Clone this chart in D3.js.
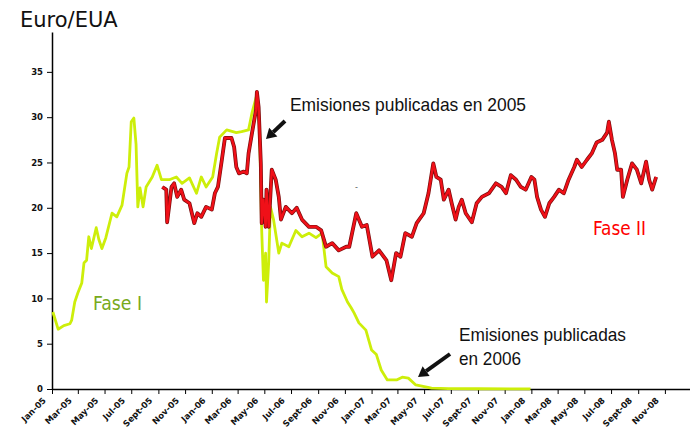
<!DOCTYPE html>
<html>
<head>
<meta charset="utf-8">
<script src="https://cdn.jsdelivr.net/npm/d3@7"></script>
<style>
  body { margin: 0; background: #fff; }
  .axis text { font-family: "DejaVu Sans", Verdana, sans-serif; font-weight: bold; fill: #111; }
  .axis path, .axis line { stroke: #000; }
</style>
</head>
<body>
<div id="chart"></div>
<script>
// Fase I (precio spot EUA 2005-2007)
const fase1Dates = ["2005-01-03","2005-01-15","2005-01-28","2005-02-11","2005-02-15","2005-02-22","2005-03-01","2005-03-10","2005-03-15","2005-03-21","2005-03-26","2005-04-01","2005-04-12","2005-04-18","2005-04-25","2005-05-04","2005-05-18","2005-05-29","2005-06-10","2005-06-21","2005-06-26","2005-07-01","2005-07-07","2005-07-12","2005-07-16","2005-07-21","2005-07-28","2005-08-04","2005-08-18","2005-08-29","2005-09-08","2005-09-26","2005-10-12","2005-10-25","2005-11-11","2005-11-27","2005-12-08","2005-12-19","2006-01-03","2006-01-12","2006-01-19","2006-02-04","2006-02-26","2006-03-10","2006-03-26","2006-04-03","2006-04-14","2006-04-20","2006-04-25","2006-04-29","2006-05-04","2006-05-06","2006-05-11","2006-05-15","2006-05-22","2006-06-03","2006-06-10","2006-06-26","2006-07-12","2006-07-26","2006-08-11","2006-08-27","2006-09-10","2006-09-19","2006-10-03","2006-10-18","2006-10-25","2006-11-07","2006-11-15","2006-11-22","2006-12-03","2006-12-19","2007-01-01","2007-01-12","2007-01-23","2007-02-06","2007-02-27","2007-03-12","2007-03-26","2007-04-12","2007-05-18","2007-06-26","2007-09-03","2007-12-30"];
const fase1Values = [8.5,6.6,7.0,7.2,7.6,9.6,10.6,11.7,13.9,14.2,16.8,15.5,17.8,16.5,15.5,16.7,19.4,19.0,20.3,23.8,24.5,29.5,29.9,27.0,20.1,22.2,20.1,22.3,23.4,24.7,23.1,23.1,23.4,22.7,23.3,21.6,23.4,22.3,23.4,26.0,27.8,28.6,28.3,28.4,28.6,30.5,32.5,29.0,17.5,12.0,15.0,9.6,14.0,20.1,18.7,15.0,16.1,15.7,17.5,16.8,17.2,16.7,17.2,13.5,12.8,12.4,11.0,9.6,9.0,8.4,7.3,6.5,4.3,3.8,2.1,1.0,1.0,1.3,1.2,0.45,0.1,0.05,0.03,0.02];

// Fase II (futuros dic-08)
const fase2Dates = ["2005-09-10","2005-09-19","2005-09-21","2005-10-01","2005-10-07","2005-10-14","2005-10-23","2005-10-30","2005-11-11","2005-11-22","2005-11-29","2005-12-08","2005-12-19","2006-01-01","2006-01-08","2006-01-15","2006-01-24","2006-01-31","2006-02-15","2006-02-21","2006-02-26","2006-03-04","2006-03-15","2006-03-22","2006-03-26","2006-04-03","2006-04-12","2006-04-14","2006-04-18","2006-04-23","2006-04-25","2006-04-29","2006-05-04","2006-05-06","2006-05-11","2006-05-18","2006-05-27","2006-06-03","2006-06-08","2006-06-19","2006-07-03","2006-07-14","2006-07-26","2006-08-11","2006-08-27","2006-09-08","2006-09-19","2006-10-03","2006-10-18","2006-11-04","2006-11-11","2006-11-27","2006-12-10","2006-12-21","2007-01-03","2007-01-18","2007-02-04","2007-02-15","2007-02-26","2007-03-08","2007-03-19","2007-04-03","2007-04-14","2007-04-30","2007-05-11","2007-05-22","2007-05-29","2007-06-08","2007-06-15","2007-06-26","2007-07-03","2007-07-12","2007-07-19","2007-07-26","2007-08-04","2007-08-18","2007-08-29","2007-09-10","2007-09-26","2007-10-12","2007-10-25","2007-11-04","2007-11-15","2007-11-27","2007-12-08","2007-12-19","2008-01-01","2008-01-08","2008-01-14","2008-01-23","2008-02-01","2008-02-11","2008-02-22","2008-03-04","2008-03-15","2008-03-26","2008-04-08","2008-04-14","2008-04-25","2008-05-07","2008-05-18","2008-05-29","2008-06-11","2008-06-22","2008-06-26","2008-07-03","2008-07-10","2008-07-15","2008-07-24","2008-07-28","2008-08-07","2008-08-18","2008-08-29","2008-09-08","2008-09-19","2008-09-26","2008-10-03","2008-10-12"];
const fase2Values = [22.3,22.0,18.4,22.3,22.7,21.2,22.0,20.9,20.5,18.3,19.4,19.0,20.1,19.8,21.6,22.3,25.3,27.7,27.7,26.7,24.5,23.8,24.0,23.8,26.0,28.3,30.8,32.8,31.1,24.9,18.3,20.9,17.9,22.0,17.9,24.2,23.1,21.2,18.7,20.1,19.4,20.0,18.7,17.9,17.9,17.5,15.7,16.1,15.3,15.7,15.7,19.4,17.9,18.1,14.6,15.3,14.2,12.0,15.0,14.6,17.2,16.8,18.3,19.4,21.6,24.9,23.4,23.1,20.9,22.0,20.5,18.7,20.1,20.9,19.4,18.4,20.5,21.2,21.6,22.7,22.3,21.6,23.6,23.1,22.3,22.0,23.4,23.1,21.2,19.8,19.0,20.5,21.2,22.0,21.6,23.1,24.5,25.3,24.5,25.3,26.0,27.2,27.5,28.3,29.5,27.5,26.0,24.2,24.2,21.2,23.1,24.9,24.2,22.7,25.1,23.1,22.0,23.4];

const xTickLabels = ["Jan-05","Mar-05","May-05","Jul-05","Sept-05","Nov-05","Jan-06","Mar-06","May-06","Jul-06","Sept-06","Nov-06","Jan-07","Mar-07","May-07","Jul-07","Sept-07","Nov-07","Jan-08","Mar-08","May-08","Jul-08","Sept-08","Nov-08"];
const yTicks = [0,5,10,15,20,25,30,35];

const width = 690, height = 432;
const parse = d3.timeParse("%Y-%m-%d");

const svg = d3.select("#chart").append("svg")
  .attr("width", width)
  .attr("height", height);

const x = d3.scaleTime()
  .domain([new Date(2005,0,1), new Date(2009,0,1)])
  .range([52, 691.6]);
const y = d3.scaleLinear()
  .domain([0, 39.4])
  .range([389, 32]);

const tickDates = d3.timeMonth.every(2).range(new Date(2005,0,1), new Date(2008,11,2));

// ejes
const xAxis = svg.append("g")
  .attr("class", "axis")
  .attr("transform", "translate(0,389)")
  .call(d3.axisBottom(x).tickValues(tickDates).tickSize(5).tickSizeOuter(0)
    .tickFormat((d,i) => xTickLabels[i]));
xAxis.select(".domain").attr("stroke-width", 1.5);
xAxis.selectAll("text")
  .attr("font-size", 8.5)
  .attr("text-anchor", "end")
  .attr("dy", 0)
  .attr("y", 0)
  .attr("transform", "translate(-6,12) rotate(-45)");

const yAxis = svg.append("g")
  .attr("class", "axis")
  .attr("transform", "translate(52,0)")
  .call(d3.axisLeft(y).tickValues(yTicks).tickSize(5).tickSizeOuter(0));
yAxis.select(".domain").attr("stroke-width", 1.5);
yAxis.selectAll("text").attr("font-size", 8.5).attr("x", -9);

const line = d3.line()
  .x(d => x(d[0]))
  .y(d => y(d[1]));

const fase1 = fase1Dates.map((d,i) => [parse(d), fase1Values[i]]);
const fase2 = fase2Dates.map((d,i) => [parse(d), fase2Values[i]]);

svg.append("path")
  .datum(fase1)
  .attr("fill", "none")
  .attr("stroke", "#cdee0a")
  .attr("stroke-width", 2.8)
  .attr("stroke-linejoin", "round")
  .attr("d", line);

svg.append("path")
  .datum(fase2)
  .attr("fill", "none")
  .attr("stroke", "#7a0d0d")
  .attr("stroke-width", 3.8)
  .attr("stroke-linejoin", "round")
  .attr("d", line);
svg.append("path")
  .datum(fase2)
  .attr("fill", "none")
  .attr("stroke", "#f01018")
  .attr("stroke-width", 2.4)
  .attr("stroke-linejoin", "round")
  .attr("d", line);

// textos
svg.append("text")
  .attr("x", 20).attr("y", 27)
  .attr("font-family", "DejaVu Sans, Verdana, sans-serif")
  .attr("font-size", 21)
  .attr("fill", "#111")
  .text("Euro/EUA");

const narrow = "Liberation Sans Narrow, Arial Narrow, sans-serif";
svg.append("text")
  .attr("x", 290).attr("y", 111)
  .attr("font-family", narrow).attr("font-size", 19)
  .attr("textLength", 236).attr("lengthAdjust", "spacingAndGlyphs")
  .attr("fill", "#111")
  .text("Emisiones publicadas en 2005");
svg.append("text")
  .attr("x", 459).attr("y", 341)
  .attr("font-family", narrow).attr("font-size", 19)
  .attr("textLength", 167).attr("lengthAdjust", "spacingAndGlyphs")
  .attr("fill", "#111")
  .text("Emisiones publicadas");
svg.append("text")
  .attr("x", 459).attr("y", 365)
  .attr("font-family", narrow).attr("font-size", 19)
  .attr("textLength", 62).attr("lengthAdjust", "spacingAndGlyphs")
  .attr("fill", "#111")
  .text("en 2006");

svg.append("text")
  .attr("x", 93).attr("y", 310)
  .attr("font-family", "DejaVu Sans Condensed, sans-serif").attr("font-size", 19)
  .attr("textLength", 49).attr("lengthAdjust", "spacingAndGlyphs")
  .attr("fill", "#78aa1c")
  .text("Fase I");
svg.append("text")
  .attr("x", 593).attr("y", 235)
  .attr("font-family", "DejaVu Sans Condensed, sans-serif").attr("font-size", 19)
  .attr("textLength", 53).attr("lengthAdjust", "spacingAndGlyphs")
  .attr("fill", "#ff0000")
  .text("Fase II");

svg.append("text")
  .attr("x", 355).attr("y", 190)
  .attr("font-family", "DejaVu Sans, sans-serif").attr("font-size", 8)
  .attr("fill", "#555")
  .text("-");

// flechas
function arrow(x1, y1, x2, y2) {
  const a = Math.atan2(y2 - y1, x2 - x1);
  const hl = 10, hw = 6;
  const bx = x2 - hl * Math.cos(a), by = y2 - hl * Math.sin(a);
  svg.append("line")
    .attr("x1", x1).attr("y1", y1).attr("x2", bx).attr("y2", by)
    .attr("stroke", "#111").attr("stroke-width", 4);
  svg.append("path")
    .attr("d", "M" + x2 + "," + y2 +
      "L" + (bx + hw * Math.sin(a)) + "," + (by - hw * Math.cos(a)) +
      "L" + (bx - hw * Math.sin(a)) + "," + (by + hw * Math.cos(a)) + "Z")
    .attr("fill", "#111");
}
arrow(285, 121, 266, 139);
arrow(450, 354, 418, 377);
</script>
</body>
</html>
